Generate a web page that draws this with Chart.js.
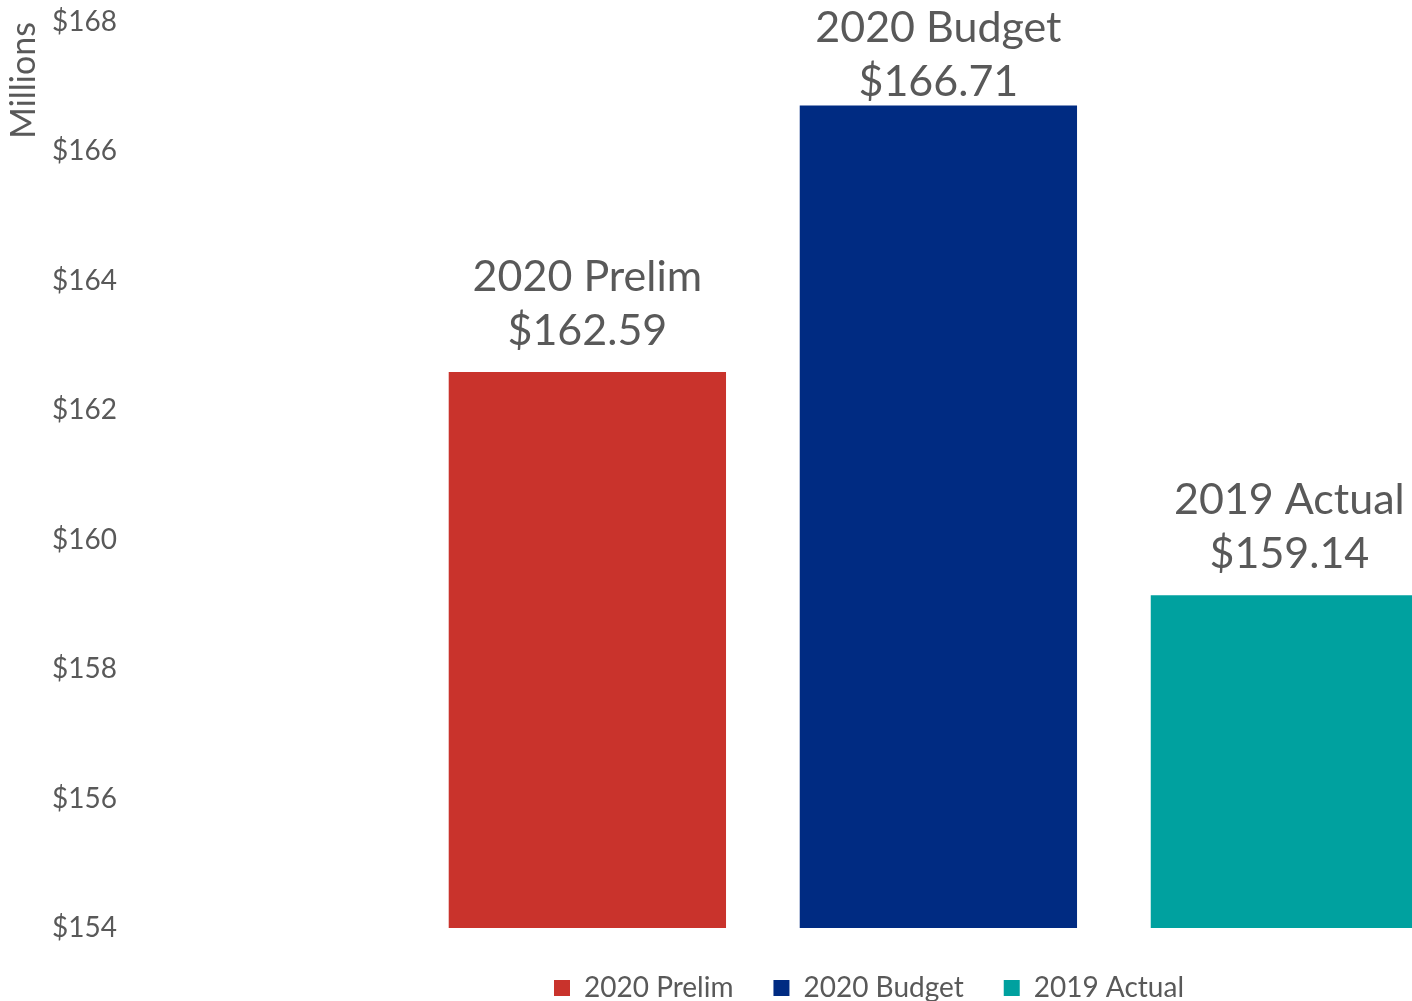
<!DOCTYPE html>
<html>
<head>
<meta charset="utf-8">
<title>Budget comparison</title>
<script src="https://cdn.jsdelivr.net/npm/chart.js@4.4.1/dist/chart.umd.min.js"></script>
<style>
  html, body { margin: 0; padding: 0; overflow: hidden; background: #fff; }
  canvas { display: block; }
</style>
</head>
<body>
<canvas id="budgetChart" width="1738" height="1012"></canvas>
<script>
// series shown as bars, one value each
const seriesNames = ['2020 Prelim', '2020 Budget', '2019 Actual'];
const seriesValues = [162.59, 166.71, 159.14];
const seriesSlots = [1, 2, 3];
const yTickValues = [154, 156, 158, 160, 162, 164, 166, 168];

const barColors = ['#C9332C', '#002B82', '#00A19F'];
const textColor = '#595959';
const fontFamily = 'Lato, "Open Sans", sans-serif';

Chart.defaults.font.family = fontFamily;

// name + dollar value written above each bar
const barLabels = {
    id: 'barLabels',
    afterDatasetsDraw(chart) {
        const ctx = chart.ctx;
        const size = 43;
        ctx.save();
        ctx.font = size + 'px ' + fontFamily;
        ctx.fillStyle = textColor;
        ctx.textAlign = 'center';
        ctx.textBaseline = 'alphabetic';
        chart.data.datasets.forEach((ds, i) => {
            const bar = chart.getDatasetMeta(i).data[0];
            // keep the first line inside the canvas for the tallest bar
            const line2 = Math.max(bar.y - 43, 26.5 + 54);
            const line1 = line2 - 54;
            const shift = size * 0.36;
            ctx.fillText(ds.label, bar.x, line1 + shift);
            ctx.fillText('$' + ds.data[0].y.toFixed(2), bar.x, line2 + shift);
        });
        ctx.restore();
    }
};

const ctx = document.getElementById('budgetChart').getContext('2d');
const budgetChart = new Chart(ctx, {
    type: 'bar',
    data: {
        datasets: seriesNames.map((name, i) => ({
            label: name,
            data: [{ x: seriesSlots[i], y: seriesValues[i] }],
            backgroundColor: barColors[i],
            borderWidth: 0,
            grouped: false,
            barPercentage: 0.79,
            categoryPercentage: 1
        }))
    },
    options: {
        responsive: false,
        animation: false,
        layout: { padding: { top: 22, left: 0, right: 0, bottom: 0 } },
        scales: {
            x: {
                type: 'linear',
                min: -0.34,
                max: 4.278,
                offset: false,
                grid: { display: false, drawTicks: false, offset: false },
                border: { display: false },
                ticks: { display: false },
                afterBuildTicks: (scale) => { scale.ticks = seriesSlots.map(v => ({ value: v })); },
                afterFit: (scale) => { scale.height = 6; }
            },
            y: {
                min: 154,
                max: 168,
                afterBuildTicks: (scale) => { scale.ticks = yTickValues.map(v => ({ value: v })); },
                ticks: {
                    padding: 0,
                    color: textColor,
                    font: { size: 28 },
                    callback: (v) => '$' + v
                },
                grid: { display: false, drawTicks: false },
                border: { display: false },
                title: {
                    display: true,
                    text: 'Millions',
                    align: 'end',
                    color: textColor,
                    font: { size: 34 }
                },
                afterFit: (scale) => { scale.width = 117; }
            }
        },
        plugins: {
            legend: {
                position: 'bottom',
                labels: {
                    boxWidth: 16,
                    boxHeight: 16,
                    padding: 40,
                    color: textColor,
                    font: { size: 28 }
                }
            },
            tooltip: { enabled: false }
        }
    },
    plugins: [barLabels]
});
</script>
</body>
</html>
